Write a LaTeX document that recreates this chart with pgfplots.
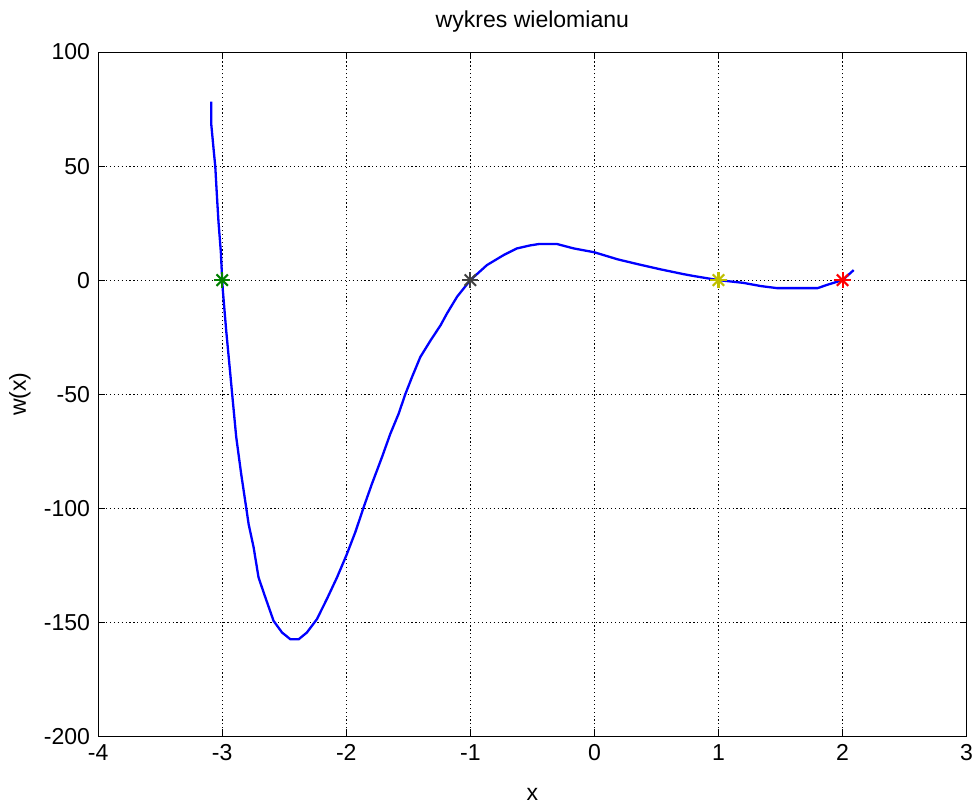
\documentclass[border=0pt]{standalone}
\usepackage{fontspec}
\setmainfont{Liberation Sans}
\usepackage{pgfplots}
\pgfplotsset{compat=1.18}
\definecolor{mgreen}{rgb}{0,0.5,0}
\definecolor{mgray}{rgb}{0.25,0.25,0.25}
\definecolor{myellow}{rgb}{0.75,0.75,0}
\begin{document}
\begin{tikzpicture}
\begin{axis}[
    name=main,
    scale only axis,
    width=377pt, height=297pt,
    xmin=-4, xmax=3,
    ymin=-200, ymax=100,
    xtick={-4,-3,-2,-1,0,1,2,3},
    ytick={-200,-150,-100,-50,0,50,100},
    tick align=inside,
    major tick length=3pt,
    tick style={black, line width=0.4pt},
    axis line style={black, line width=0.45pt},
    grid=major,
    grid style={black, line width=0.45pt, dash pattern=on 0.5pt off 1.2pt},
    /pgf/number format/assume math mode=true,
    ticklabel style={font=\fontsize{10}{12}\selectfont},
    xticklabel style={inner xsep=0pt},
    title={wykres wielomianu},
    title style={font=\fontsize{10}{12}\selectfont, at={(axis description cs:0.5,1.024)}, anchor=center},
    xlabel={x},
    xlabel style={font=\fontsize{10}{12}\selectfont, inner sep=0pt, at={(axis description cs:0.5,-0.085)}, anchor=center},
    ylabel={w(x)},
    ylabel style={font=\fontsize{10}{12}\selectfont, at={(axis description cs:-0.09,0.5)}, anchor=center},
]
\addplot[color=blue, line width=1pt] coordinates {
    (-3.089,78.3) (-3.089,68.8) (-3.065,54.9) (-3.056,50) (-3.043,37.4)
    (-3.030,25.6) (-3.011,12.4) (-3.0,0) (-2.995,-4.4) (-2.968,-22)
    (-2.935,-41) (-2.92,-49.8) (-2.887,-68.8) (-2.847,-85) (-2.807,-99.6)
    (-2.787,-107) (-2.747,-117.1) (-2.707,-130.4) (-2.653,-139) (-2.586,-149.4)
    (-2.518,-154.5) (-2.45,-157.5) (-2.384,-157.5) (-2.317,-154.5) (-2.236,-148.6)
    (-2.156,-139.8) (-2.075,-130.4) (-1.997,-120.4) (-1.927,-110.5) (-1.86,-99.6)
    (-1.793,-89.3) (-1.712,-77.6) (-1.645,-67.4) (-1.578,-58.6) (-1.524,-50)
    (-1.47,-42.5) (-1.403,-33.7) (-1.32,-26.4) (-1.24,-19.8) (-1.188,-14.6)
    (-1.107,-7.3) (-1.0,0) (-0.866,6.6) (-0.731,11) (-0.624,13.9)
    (-0.52,15.2) (-0.45,15.8) (-0.30,15.8) (-0.167,13.9) (0,12.2)
    (0.188,9.1) (0.349,7) (0.535,4.7) (0.72,2.6) (0.80,1.8)
    (0.922,0.7) (1.0,0) (1.2,-1.2) (1.34,-2.6) (1.47,-3.5)
    (1.8,-3.5) (1.88,-2) (2.0,0) (2.09,4.4)
};
% zero markers (MATLAB '*' = plus and cross)
\addplot[mgreen, only marks, mark=+, mark size=3.5pt, line width=0.9pt] coordinates {(-3,0)};
\addplot[mgreen, only marks, mark=x, mark size=3.5pt, line width=0.9pt] coordinates {(-3,0)};
\addplot[mgray, only marks, mark=+, mark size=3.5pt, line width=0.9pt] coordinates {(-1,0)};
\addplot[mgray, only marks, mark=x, mark size=3.5pt, line width=0.9pt] coordinates {(-1,0)};
\addplot[myellow, only marks, mark=+, mark size=3.5pt, line width=0.9pt] coordinates {(1,0)};
\addplot[myellow, only marks, mark=x, mark size=3.5pt, line width=0.9pt] coordinates {(1,0)};
\addplot[red, only marks, mark=+, mark size=3.5pt, line width=0.9pt] coordinates {(2,0)};
\addplot[red, only marks, mark=x, mark size=3.5pt, line width=0.9pt] coordinates {(2,0)};
\end{axis}
\path ([shift={(-42.6pt,-29.6pt)}]main.south west) rectangle ([shift={(0pt,22.6pt)}]main.north east);
\end{tikzpicture}
\end{document}
